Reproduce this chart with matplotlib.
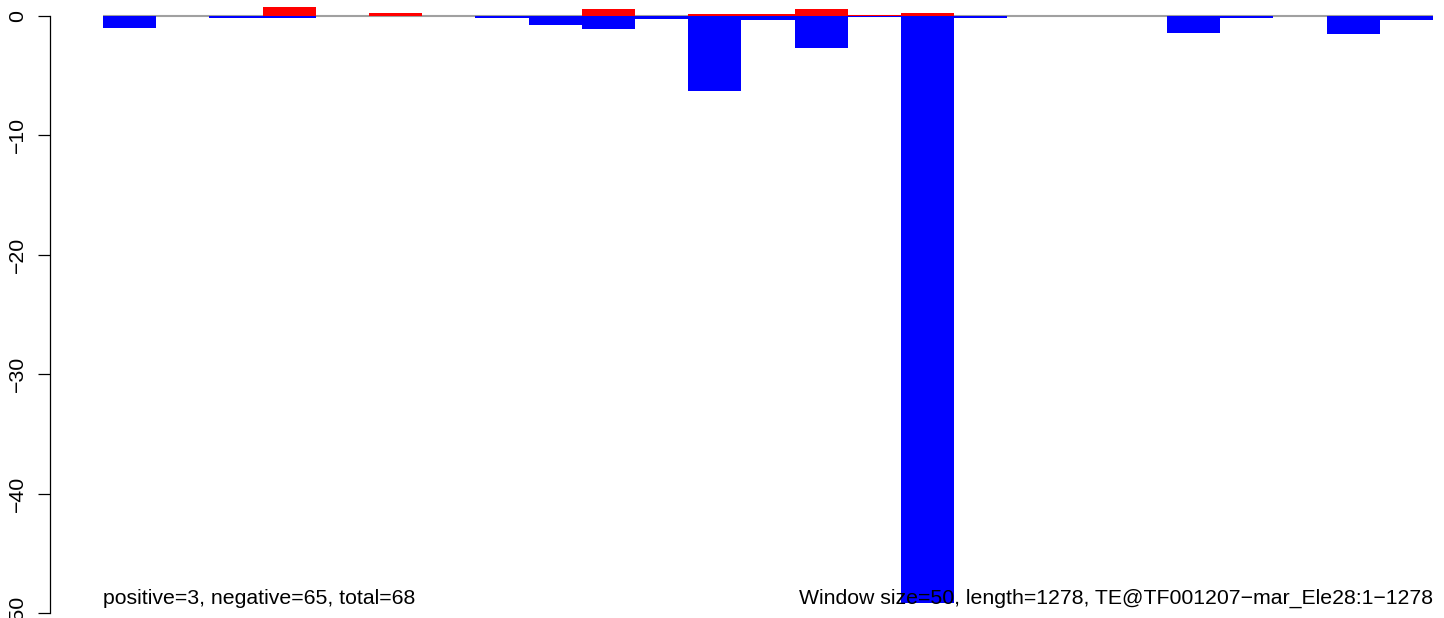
import matplotlib
matplotlib.use("Agg")
import matplotlib.pyplot as plt
import numpy as np

window = 50
length = 1278
# values per 50-bp window (25 windows)
positive = [0, 0, 0, 0.75, 0, 0.25, 0, 0, 0, 0.6, 0, 0.15, 0.15, 0.6, 0.08,
            0.25, 0, 0, 0, 0, 0, 0, 0, 0, 0]
negative = [-1.0, 0, -0.15, -0.15, 0, 0, 0, -0.15, -0.75, -1.1, -0.25, -6.3, -0.33,
            -2.7, -0.1, -49.2, -0.15, 0, 0, 0, -1.4, -0.15, 0, -1.5, -0.33]
yticks = [0, -10, -20, -30, -40, -50]
left_text = "positive=3, negative=65, total=68"
right_text = "Window size=50, length=1278, TE@TF001207\u2212mar_Ele28:1\u22121278"

plt.rcParams['font.family'] = ['Liberation Sans', 'DejaVu Sans']

W, H = 1444, 618
fig = plt.figure(figsize=(W / 100, H / 100), dpi=100)
x0, x1 = 103, 1433
ax = fig.add_axes([x0 / W, 0, (x1 - x0) / W, 1])

starts = np.arange(len(positive)) * window
xmax = len(positive) * window
ax.set_xlim(0, xmax)
# y=0 at pixel 16, y=-50 at pixel 613
ppu = (613 - 16) / 50.0
ax.set_ylim(-(H - 16) / ppu, 16 / ppu)

ax.axhline(0, color='#a0a0a0', lw=1.5, zorder=1)
ax.bar(starts, positive, width=window, align='edge', color='#ff0000', lw=0, zorder=2)
ax.bar(starts, negative, width=window, align='edge', color='#0000ff', lw=0, zorder=3)

for s in ['top', 'right', 'bottom']:
    ax.spines[s].set_visible(False)
ax.spines['left'].set_position(('outward', 53 * 0.72))
ax.spines['left'].set_bounds(-50, 0)
ax.spines['left'].set_linewidth(0.9)
ax.set_xticks([])
ax.set_yticks(yticks)
ax.set_yticklabels([str(t).replace('-', '\u2212') for t in yticks], rotation=90,
                   va='center', fontsize=15.3)
ax.tick_params(axis='y', length=8.6, width=0.9, pad=8)

ybase = -(604 - 16) / ppu
ax.text(0, ybase, left_text, ha='left', va='baseline', fontsize=15.3, zorder=5)
ax.text(xmax, ybase, right_text, ha='right', va='baseline', fontsize=15.3, zorder=5)

fig.savefig('out.png', dpi=100)
